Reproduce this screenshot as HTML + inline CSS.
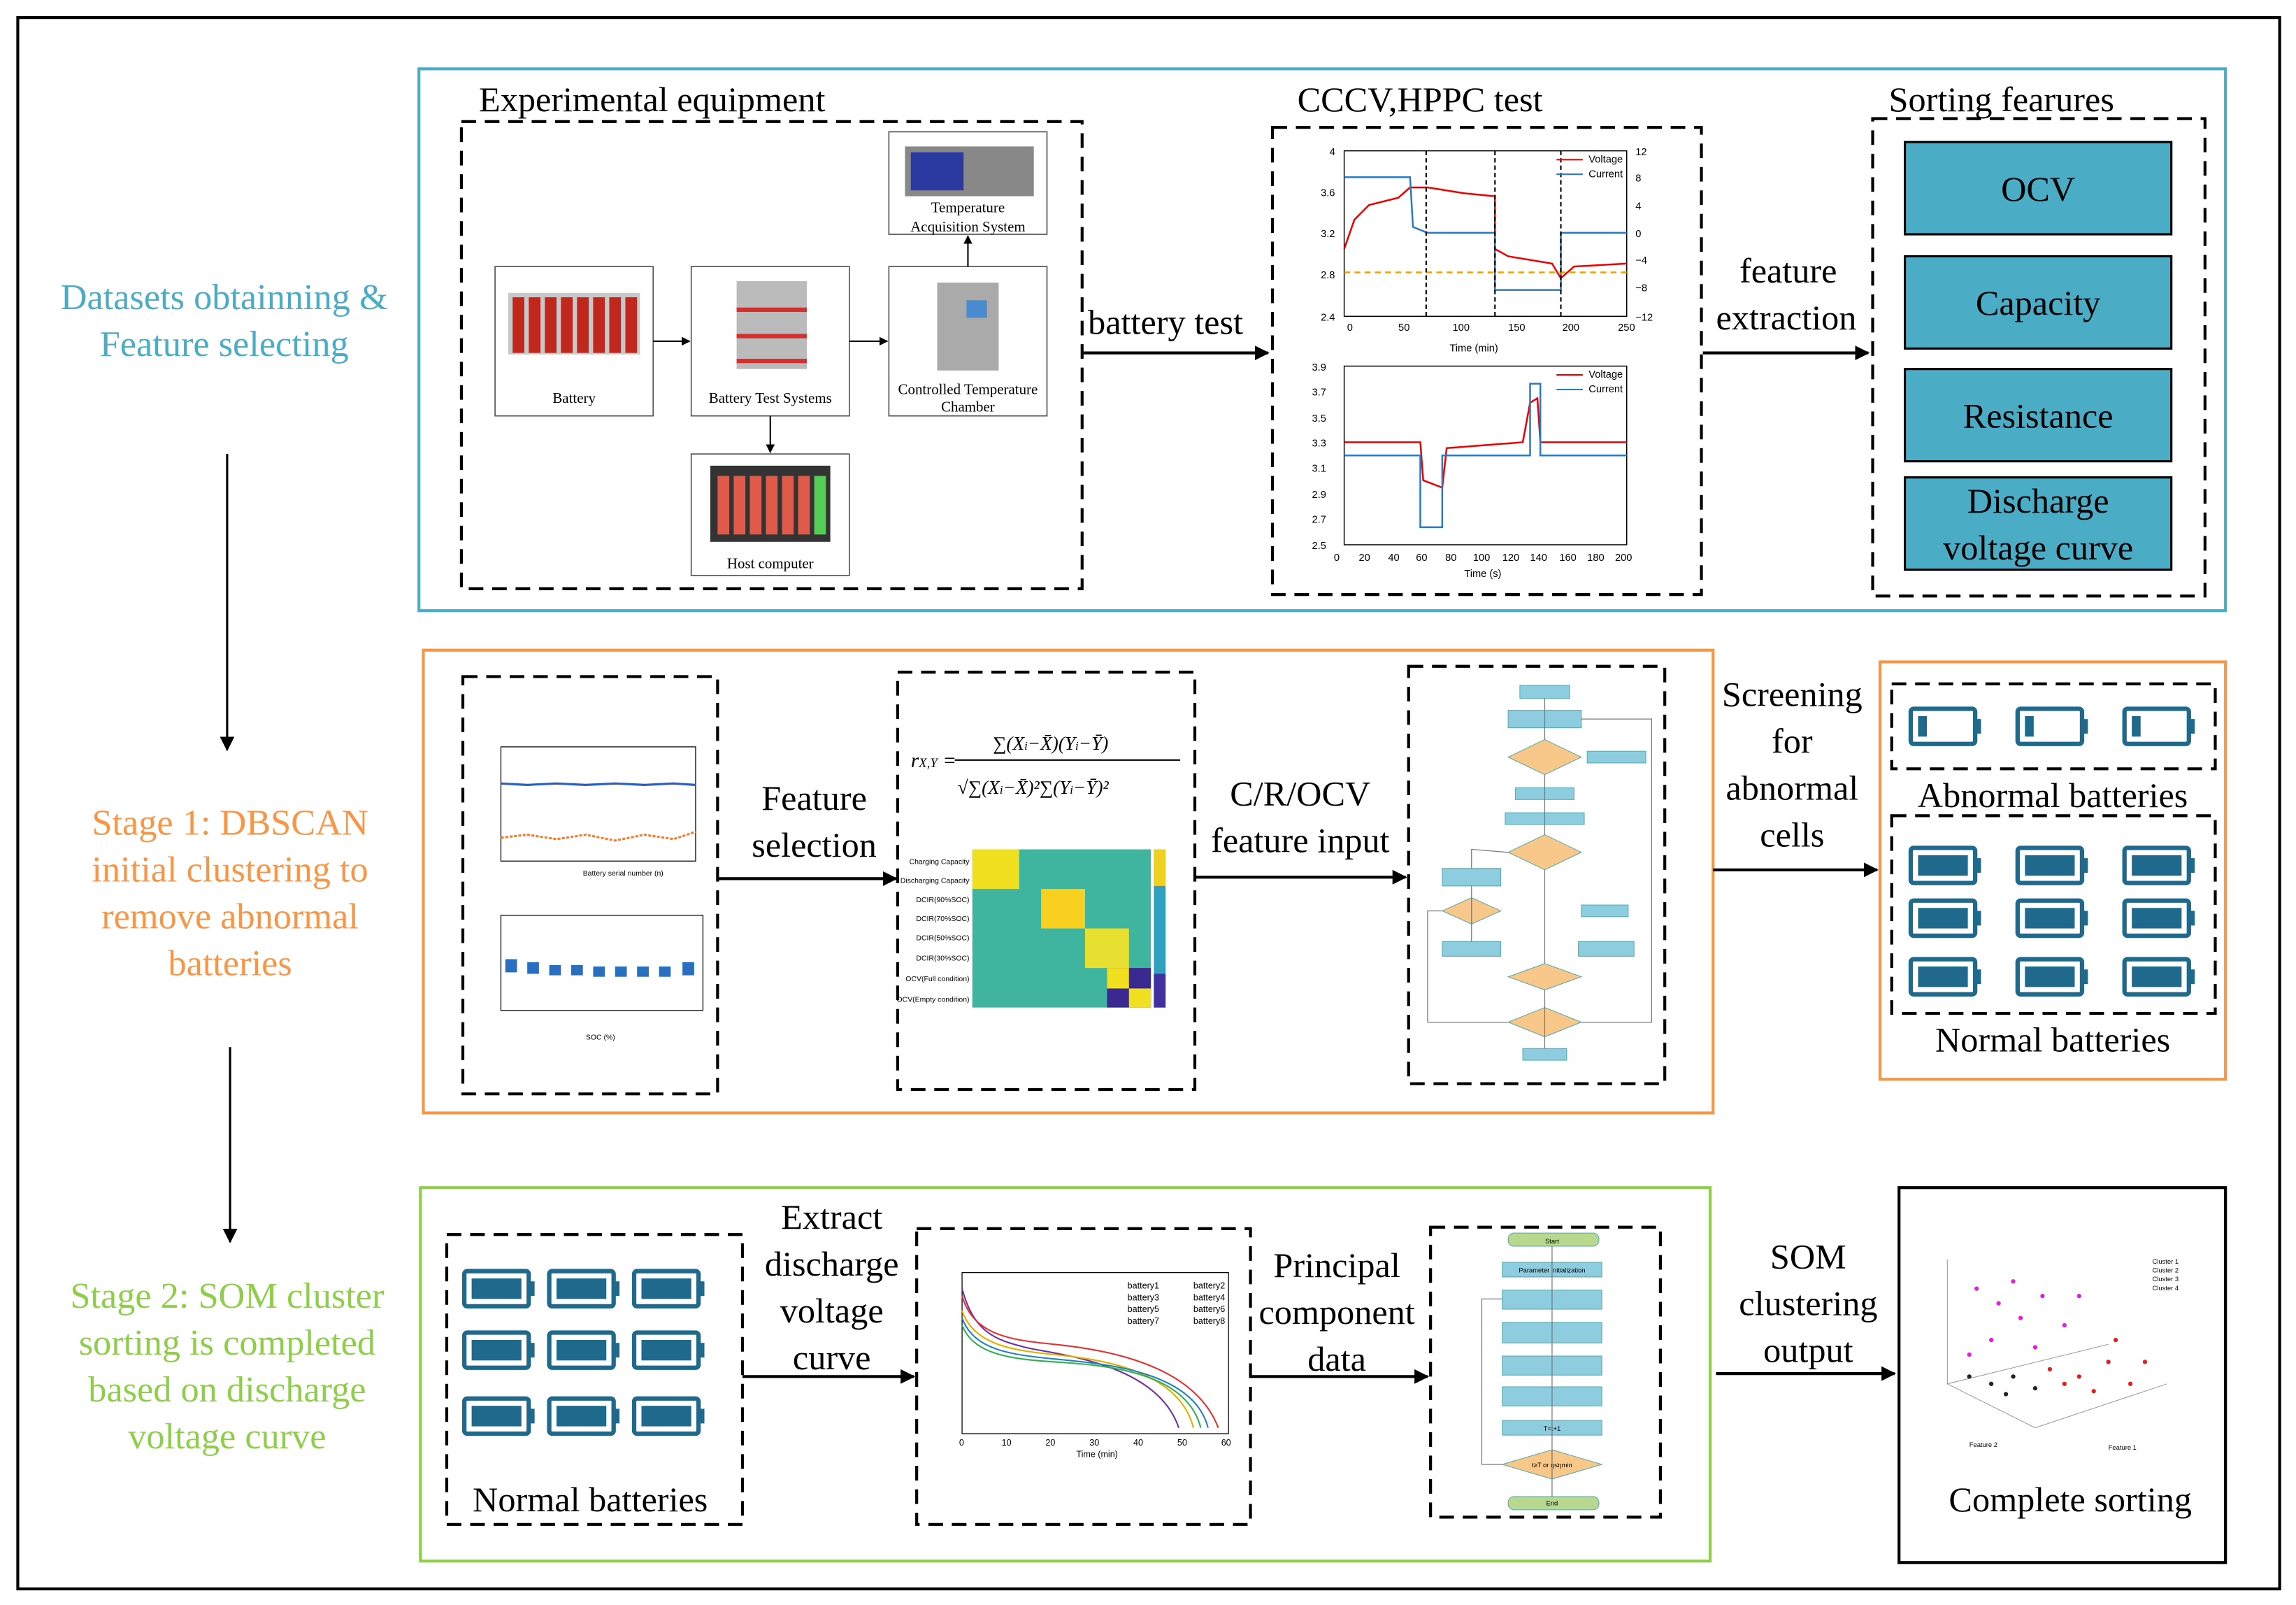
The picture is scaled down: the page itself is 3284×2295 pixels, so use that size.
<!DOCTYPE html>
<html><head><meta charset="utf-8"><style>html,body{margin:0;padding:0;background:#fff}svg{display:block}</style></head><body>
<svg xmlns="http://www.w3.org/2000/svg" width="3284" height="2295" viewBox="0 0 1568 1096" font-family="Liberation Serif, serif">
<defs>
<marker id="ar" markerWidth="10" markerHeight="10" refX="9" refY="5" orient="auto" markerUnits="userSpaceOnUse"><path d="M0,0 L10,5 L0,10 z" fill="#000"/></marker>
<marker id="as" markerWidth="6" markerHeight="6" refX="5.5" refY="3" orient="auto" markerUnits="userSpaceOnUse"><path d="M0,0 L6,3 L0,6 z" fill="#000"/></marker>
<g id="bat"><rect x="0" y="0" width="44" height="24" rx="2" fill="none" stroke="#1f6a8c" stroke-width="3"/><rect x="44" y="7" width="4" height="10" fill="#1f6a8c"/><rect x="5" y="5" width="34" height="14" fill="#1f6a8c"/></g>
<g id="batL"><rect x="0" y="0" width="44" height="24" rx="2" fill="none" stroke="#1f6a8c" stroke-width="3"/><rect x="44" y="7" width="4" height="10" fill="#1f6a8c"/><rect x="5" y="5" width="6" height="14" fill="#1f6a8c"/></g>
</defs>
<rect width="1568" height="1096" fill="#fff"/>
<rect x="12" y="12" width="1545" height="1073" fill="none" stroke="#000" stroke-width="2"/>

<!-- left labels -->
<g font-size="25" text-anchor="middle">
<text x="153" y="211" fill="#4bacc6">Datasets obtainning &amp;</text>
<text x="153" y="243" fill="#4bacc6">Feature selecting</text>
<text x="157" y="570" fill="#f79646">Stage 1: DBSCAN</text>
<text x="157" y="602" fill="#f79646">initial clustering to</text>
<text x="157" y="634" fill="#f79646">remove abnormal</text>
<text x="157" y="666" fill="#f79646">batteries</text>
<text x="155" y="893" fill="#8fce4a">Stage 2: SOM cluster</text>
<text x="155" y="925" fill="#8fce4a">sorting is completed</text>
<text x="155" y="957" fill="#8fce4a">based on discharge</text>
<text x="155" y="989" fill="#8fce4a">voltage curve</text>
</g>
<line x1="155" y1="310" x2="155" y2="512" stroke="#000" stroke-width="1.5" marker-end="url(#ar)"/>
<line x1="157" y1="715" x2="157" y2="848" stroke="#000" stroke-width="1.5" marker-end="url(#ar)"/>

<!-- Section boxes -->
<rect x="286" y="47" width="1234" height="370" fill="none" stroke="#4bacc6" stroke-width="2"/>
<rect x="289" y="444" width="881" height="316" fill="none" stroke="#f79646" stroke-width="2"/>
<rect x="1284" y="452" width="236" height="285" fill="none" stroke="#f79646" stroke-width="2"/>
<rect x="287" y="811" width="881" height="255" fill="none" stroke="#8fce4a" stroke-width="2"/>

<g fill="none" stroke="#000" stroke-width="2" stroke-dasharray="10,6">
<rect x="315" y="83" width="424" height="319"/>
<rect x="869" y="87" width="293" height="319"/>
<rect x="1279" y="81" width="227" height="326"/>
<rect x="316" y="462" width="174" height="285"/>
<rect x="613" y="459" width="203" height="285"/>
<rect x="962" y="455" width="175" height="285"/>
<rect x="1292" y="467" width="221" height="58"/>
<rect x="1292" y="557" width="221" height="135"/>
<rect x="305" y="843" width="202" height="198"/>
<rect x="626" y="839" width="228" height="202"/>
<rect x="977" y="838" width="157" height="198"/>
</g>

<!-- Experimental equipment -->
<text x="327" y="76" font-size="24">Experimental equipment</text>
<g fill="#fff" stroke="#555" stroke-width="0.8">
<rect x="338" y="182" width="108" height="102"/>
<rect x="472" y="182" width="108" height="102"/>
<rect x="607" y="182" width="108" height="102"/>
<rect x="607" y="90" width="108" height="70"/>
<rect x="472" y="310" width="108" height="83"/>
</g>
<rect x="347" y="200" width="90" height="42" fill="#c8c8c8"/>
<g fill="#c0281e"><rect x="350" y="203" width="8" height="38"/><rect x="361" y="203" width="8" height="38"/><rect x="372" y="203" width="8" height="38"/><rect x="383" y="203" width="8" height="38"/><rect x="394" y="203" width="8" height="38"/><rect x="405" y="203" width="8" height="38"/><rect x="416" y="203" width="8" height="38"/><rect x="427" y="203" width="8" height="38"/></g>
<rect x="503" y="192" width="48" height="60" fill="#bbb"/>
<g fill="#d43030"><rect x="503" y="210" width="48" height="3"/><rect x="503" y="228" width="48" height="3"/><rect x="503" y="245" width="48" height="3"/></g>
<rect x="640" y="193" width="42" height="60" fill="#aaa"/><rect x="660" y="205" width="14" height="12" fill="#4a8bd0"/>
<rect x="618" y="100" width="88" height="34" fill="#888"/><rect x="622" y="104" width="36" height="26" fill="#2a3aa0"/>
<rect x="485" y="318" width="82" height="52" fill="#333"/>
<g fill="#e05a4a"><rect x="490" y="325" width="8" height="40"/><rect x="501" y="325" width="8" height="40"/><rect x="512" y="325" width="8" height="40"/><rect x="523" y="325" width="8" height="40"/><rect x="534" y="325" width="8" height="40"/><rect x="545" y="325" width="8" height="40"/></g>
<rect x="556" y="325" width="8" height="40" fill="#5c5"/>
<g font-size="10" text-anchor="middle">
<text x="392" y="275">Battery</text>
<text x="526" y="275">Battery Test Systems</text>
<text x="661" y="269">Controlled Temperature</text>
<text x="661" y="281">Chamber</text>
<text x="661" y="145">Temperature</text>
<text x="661" y="158">Acquisition System</text>
<text x="526" y="388">Host computer</text>
</g>
<g stroke="#000" stroke-width="1">
<line x1="446" y1="233" x2="471" y2="233" marker-end="url(#as)"/>
<line x1="580" y1="233" x2="606" y2="233" marker-end="url(#as)"/>
<line x1="661" y1="182" x2="661" y2="161" marker-end="url(#as)"/>
<line x1="526" y1="284" x2="526" y2="309" marker-end="url(#as)"/>
</g>
<text x="743" y="228" font-size="24">battery test</text>
<line x1="740" y1="241" x2="866" y2="241" stroke="#000" stroke-width="2" marker-end="url(#ar)"/>

<!-- CCCV -->
<text x="886" y="76" font-size="24">CCCV,HPPC test</text>
<g font-size="7" font-family="Liberation Sans, sans-serif">
<rect x="918" y="103" width="193" height="113" fill="none" stroke="#000" stroke-width="0.7"/>
<polyline points="918,170 925,150 935,140 955,135 963,128 975,128 1000,132 1021,134 1021,170 1030,175 1060,180 1066,190 1075,182 1111,180" fill="none" stroke="#e00" stroke-width="1.2"/>
<polyline points="918,121 963,121 965,155 975,159 1021,159 1021,198 1066,198 1066,159 1111,159" fill="none" stroke="#2a7ac0" stroke-width="1.2"/>
<line x1="918" y1="186" x2="1111" y2="186" stroke="#f0a000" stroke-dasharray="4,3" stroke-width="1.2"/>
<g stroke="#000" stroke-dasharray="3,2" stroke-width="1"><line x1="974" y1="103" x2="974" y2="216"/><line x1="1021" y1="103" x2="1021" y2="216"/><line x1="1066" y1="103" x2="1066" y2="216"/></g>
<text x="1085" y="111">Voltage</text><text x="1085" y="121">Current</text>
<line x1="1063" y1="109" x2="1081" y2="109" stroke="#e00"/><line x1="1063" y1="119" x2="1081" y2="119" stroke="#2a7ac0"/>
<text x="908" y="106">4</text><text x="902" y="134">3.6</text><text x="902" y="162">3.2</text><text x="902" y="190">2.8</text><text x="902" y="219">2.4</text>
<text x="920" y="226">0</text><text x="955" y="226">50</text><text x="992" y="226">100</text><text x="1030" y="226">150</text><text x="1067" y="226">200</text><text x="1105" y="226">250</text>
<text x="990" y="240">Time (min)</text>
<text x="1117" y="106">12</text><text x="1117" y="124">8</text><text x="1117" y="143">4</text><text x="1117" y="162">0</text><text x="1117" y="180">−4</text><text x="1117" y="199">−8</text><text x="1117" y="219">−12</text>
<rect x="918" y="250" width="193" height="122" fill="none" stroke="#000" stroke-width="0.7"/>
<polyline points="918,302 970,302 972,328 985,333 988,306 1040,302 1045,275 1050,272 1052,302 1111,302" fill="none" stroke="#e00" stroke-width="1.2"/>
<polyline points="918,311 970,311 970,360 985,360 985,311 1045,311 1045,262 1052,262 1052,311 1111,311" fill="none" stroke="#2a7ac0" stroke-width="1.2"/>
<text x="1085" y="258">Voltage</text><text x="1085" y="268">Current</text>
<line x1="1063" y1="256" x2="1081" y2="256" stroke="#e00"/><line x1="1063" y1="266" x2="1081" y2="266" stroke="#2a7ac0"/>
<text x="896" y="253">3.9</text><text x="896" y="270">3.7</text><text x="896" y="288">3.5</text><text x="896" y="305">3.3</text><text x="896" y="322">3.1</text><text x="896" y="340">2.9</text><text x="896" y="357">2.7</text><text x="896" y="375">2.5</text>
<text x="911" y="383">0</text><text x="928" y="383">20</text><text x="948" y="383">40</text><text x="967" y="383">60</text><text x="987" y="383">80</text><text x="1006" y="383">100</text><text x="1026" y="383">120</text><text x="1045" y="383">140</text><text x="1065" y="383">160</text><text x="1084" y="383">180</text><text x="1103" y="383">200</text>
<text x="1000" y="394">Time (s)</text>
</g>
<text x="1188" y="193" font-size="24">feature</text>
<text x="1172" y="225" font-size="24">extraction</text>
<line x1="1163" y1="241" x2="1276" y2="241" stroke="#000" stroke-width="2" marker-end="url(#ar)"/>

<text x="1290" y="76" font-size="24">Sorting fearures</text>
<g fill="#4bacc6" stroke="#000" stroke-width="1.5">
<rect x="1301" y="97" width="182" height="63"/>
<rect x="1301" y="175" width="182" height="63"/>
<rect x="1301" y="252" width="182" height="63"/>
<rect x="1301" y="326" width="182" height="63"/>
</g>
<g font-size="24" text-anchor="middle">
<text x="1392" y="137">OCV</text><text x="1392" y="215">Capacity</text><text x="1392" y="292">Resistance</text>
<text x="1392" y="350">Discharge</text><text x="1392" y="382">voltage curve</text>
</g>

<!-- Stage 1 -->
<g font-size="5" font-family="Liberation Sans, sans-serif">
<rect x="342" y="510" width="133" height="78" fill="none" stroke="#000" stroke-width="0.6"/>
<polyline points="342,535 360,536 380,535 400,536 420,535 440,536 460,535 475,536" fill="none" stroke="#2a5fbf" stroke-width="1.5"/>
<polyline points="342,572 360,570 380,573 400,570 420,574 440,570 460,573 475,568" fill="none" stroke="#f08030" stroke-width="1.5" stroke-dasharray="2,1"/>
<rect x="342" y="625" width="138" height="65" fill="none" stroke="#000" stroke-width="0.6"/>
<g fill="#2a6fbf"><rect x="345" y="655" width="8" height="9"/><rect x="360" y="657" width="8" height="8"/><rect x="375" y="659" width="8" height="7"/><rect x="390" y="659" width="8" height="7"/><rect x="405" y="660" width="8" height="7"/><rect x="420" y="660" width="8" height="7"/><rect x="435" y="660" width="8" height="7"/><rect x="450" y="660" width="8" height="7"/><rect x="466" y="657" width="8" height="9"/></g>
<text x="398" y="598">Battery serial number (n)</text><text x="400" y="710">SOC (%)</text>
</g>
<text x="556" y="553" font-size="24" text-anchor="middle">Feature</text>
<text x="556" y="585" font-size="24" text-anchor="middle">selection</text>
<line x1="490" y1="600" x2="612" y2="600" stroke="#000" stroke-width="2" marker-end="url(#ar)"/>
<text x="622" y="524" font-size="14" font-style="italic">r<tspan font-size="9">X,Y</tspan> =</text>
<line x1="652" y1="519" x2="806" y2="519" stroke="#000"/>
<text x="678" y="512" font-size="13" font-style="italic">∑(X<tspan font-size="8">i</tspan>−X̄)(Y<tspan font-size="8">i</tspan>−Ȳ)</text>
<text x="654" y="542" font-size="13" font-style="italic">√∑(X<tspan font-size="8">i</tspan>−X̄)²∑(Y<tspan font-size="8">i</tspan>−Ȳ)²</text>
<g>
<rect x="664" y="580" width="122" height="108" fill="#3fb5a0"/>
<rect x="664" y="580" width="32" height="27" fill="#f0e020"/>
<rect x="711" y="607" width="30" height="27" fill="#f8d020"/>
<rect x="741" y="634" width="30" height="27" fill="#e8e030"/>
<rect x="756" y="661" width="30" height="27" fill="#3a2a90"/>
<rect x="756" y="661" width="15" height="14" fill="#f0e020"/>
<rect x="771" y="675" width="15" height="13" fill="#f0e020"/>
<rect x="788" y="580" width="8" height="108" fill="#30a0c0"/>
<rect x="788" y="580" width="8" height="25" fill="#f0d020"/>
<rect x="788" y="665" width="8" height="23" fill="#4030a0"/>
</g>
<g font-size="5" font-family="Liberation Sans, sans-serif" text-anchor="end">
<text x="662" y="590">Charging Capacity</text><text x="662" y="603">Discharging Capacity</text><text x="662" y="616">DCIR(90%SOC)</text><text x="662" y="629">DCIR(70%SOC)</text><text x="662" y="642">DCIR(50%SOC)</text><text x="662" y="656">DCIR(30%SOC)</text><text x="662" y="670">OCV(Full condition)</text><text x="662" y="684">OCV(Empty condition)</text>
</g>
<text x="888" y="550" font-size="24" text-anchor="middle">C/R/OCV</text>
<text x="888" y="582" font-size="24" text-anchor="middle">feature input</text>
<line x1="816" y1="599" x2="960" y2="599" stroke="#000" stroke-width="2" marker-end="url(#ar)"/>
<!-- flowchart 1 -->
<g fill="#8ecde0" stroke="#5aa" stroke-width="0.5">
<rect x="1038" y="468" width="34" height="9"/><rect x="1030" y="485" width="50" height="12"/>
<polygon points="1055,505 1080,517 1055,529 1030,517" fill="#f8c88a"/>
<rect x="1084" y="513" width="40" height="8"/><rect x="1035" y="538" width="40" height="8"/><rect x="1028" y="555" width="54" height="8"/>
<polygon points="1055,570 1080,582 1055,594 1030,582" fill="#f8c88a"/>
<rect x="985" y="593" width="40" height="12"/>
<polygon points="1005,613 1025,622 1005,631 985,622" fill="#f8c88a"/>
<rect x="1080" y="618" width="32" height="8"/><rect x="985" y="643" width="40" height="10"/><rect x="1078" y="643" width="38" height="10"/>
<polygon points="1055,658 1080,667 1055,676 1030,667" fill="#f8c88a"/>
<polygon points="1055,688 1080,698 1055,708 1030,698" fill="#f8c88a"/>
<rect x="1040" y="716" width="30" height="8"/>
</g>
<g stroke="#777" stroke-width="0.6" fill="none"><line x1="1055" y1="477" x2="1055" y2="505"/><line x1="1055" y1="529" x2="1055" y2="570"/><line x1="1055" y1="594" x2="1055" y2="658"/><line x1="1055" y1="676" x2="1055" y2="716"/><polyline points="1005,593 1005,580 1030,582"/><line x1="1005" y1="605" x2="1005" y2="643"/><polyline points="1080,698 1128,698 1128,491 1080,491"/><polyline points="985,622 975,622 975,698 1030,698"/></g>
<text x="1224" y="482" font-size="24" text-anchor="middle">Screening</text>
<text x="1224" y="514" font-size="24" text-anchor="middle">for</text>
<text x="1224" y="546" font-size="24" text-anchor="middle">abnormal</text>
<text x="1224" y="578" font-size="24" text-anchor="middle">cells</text>
<line x1="1170" y1="594" x2="1282" y2="594" stroke="#000" stroke-width="2" marker-end="url(#ar)"/>
<use href="#batL" x="1305" y="484"/><use href="#batL" x="1378" y="484"/><use href="#batL" x="1451" y="484"/>
<text x="1402" y="551" font-size="24" text-anchor="middle">Abnormal batteries</text>
<use href="#bat" x="1305" y="579"/><use href="#bat" x="1378" y="579"/><use href="#bat" x="1451" y="579"/>
<use href="#bat" x="1305" y="615"/><use href="#bat" x="1378" y="615"/><use href="#bat" x="1451" y="615"/>
<use href="#bat" x="1305" y="655"/><use href="#bat" x="1378" y="655"/><use href="#bat" x="1451" y="655"/>
<text x="1402" y="718" font-size="24" text-anchor="middle">Normal batteries</text>

<!-- Stage 2 -->
<use href="#bat" x="317" y="868"/><use href="#bat" x="375" y="868"/><use href="#bat" x="433" y="868"/>
<use href="#bat" x="317" y="910"/><use href="#bat" x="375" y="910"/><use href="#bat" x="433" y="910"/>
<use href="#bat" x="317" y="955"/><use href="#bat" x="375" y="955"/><use href="#bat" x="433" y="955"/>
<text x="403" y="1032" font-size="24" text-anchor="middle">Normal batteries</text>
<g font-size="24" text-anchor="middle"><text x="568" y="839">Extract</text><text x="568" y="871">discharge</text><text x="568" y="903">voltage</text><text x="568" y="935">curve</text></g>
<line x1="507" y1="940" x2="624" y2="940" stroke="#000" stroke-width="2" marker-end="url(#ar)"/>
<g font-size="6" font-family="Liberation Sans, sans-serif">
<rect x="657" y="869" width="182" height="110" fill="none" stroke="#000" stroke-width="0.6"/>
<path d="M657,880 C665,910 680,915 700,920 S790,930 805,975" fill="none" stroke="#7030a0" stroke-width="1"/>
<path d="M657,885 C665,912 690,915 720,918 S815,930 832,975" fill="none" stroke="#e03030" stroke-width="1"/>
<path d="M657,895 C665,918 690,922 720,925 S805,935 815,975" fill="none" stroke="#e0b000" stroke-width="1"/>
<path d="M657,900 C665,922 690,925 720,928 S815,935 825,975" fill="none" stroke="#2080c0" stroke-width="1"/>
<path d="M657,905 C665,925 690,928 720,930 S810,935 820,975" fill="none" stroke="#30b050" stroke-width="1"/>
<text x="770" y="880">battery1</text><text x="815" y="880">battery2</text><text x="770" y="888">battery3</text><text x="815" y="888">battery4</text><text x="770" y="896">battery5</text><text x="815" y="896">battery6</text><text x="770" y="904">battery7</text><text x="815" y="904">battery8</text>
<text x="735" y="995">Time (min)</text>
<text x="655" y="987">0</text><text x="684" y="987">10</text><text x="714" y="987">20</text><text x="744" y="987">30</text><text x="774" y="987">40</text><text x="804" y="987">50</text><text x="834" y="987">60</text>
</g>
<g font-size="24" text-anchor="middle"><text x="913" y="872">Principal</text><text x="913" y="904">component</text><text x="913" y="936">data</text></g>
<line x1="854" y1="940" x2="975" y2="940" stroke="#000" stroke-width="2" marker-end="url(#ar)"/>
<g fill="#8ecde0" stroke="#5aa" stroke-width="0.5">
<rect x="1030" y="842" width="62" height="9" rx="4" fill="#b8d890"/>
<rect x="1026" y="862" width="68" height="10"/><rect x="1026" y="881" width="68" height="13"/><rect x="1026" y="903" width="68" height="14"/><rect x="1026" y="926" width="68" height="13"/><rect x="1026" y="947" width="68" height="13"/><rect x="1026" y="970" width="68" height="10"/>
<polygon points="1060,990 1094,1000 1060,1010 1026,1000" fill="#f8c88a"/>
<rect x="1030" y="1022" width="62" height="9" rx="4" fill="#b8d890"/>
</g>
<g font-size="4.5" font-family="Liberation Sans, sans-serif" text-anchor="middle"><text x="1060" y="849">Start</text><text x="1060" y="869">Parameter initialization</text><text x="1060" y="1028">End</text><text x="1060" y="1002">t≥T or η≤ηmin</text><text x="1060" y="977">T=t+1</text></g>
<g stroke="#777" stroke-width="0.6" fill="none"><line x1="1060" y1="851" x2="1060" y2="1022"/><polyline points="1026,1000 1012,1000 1012,887 1026,887"/></g>
<g font-size="24" text-anchor="middle"><text x="1235" y="866">SOM</text><text x="1235" y="898">clustering</text><text x="1235" y="930">output</text></g>
<line x1="1172" y1="938" x2="1294" y2="938" stroke="#000" stroke-width="2" marker-end="url(#ar)"/>
<rect x="1297" y="811" width="223" height="256" fill="none" stroke="#000" stroke-width="2"/>
<g stroke="#999" stroke-width="0.5" fill="none"><polyline points="1330,860 1330,945 1390,975 1480,945"/><line x1="1330" y1="945" x2="1440" y2="918"/></g>
<g fill="#e020e0"><circle cx="1350" cy="880" r="1.5"/><circle cx="1365" cy="890" r="1.5"/><circle cx="1380" cy="900" r="1.5"/><circle cx="1395" cy="885" r="1.5"/><circle cx="1360" cy="915" r="1.5"/><circle cx="1390" cy="920" r="1.5"/><circle cx="1410" cy="905" r="1.5"/><circle cx="1345" cy="925" r="1.5"/><circle cx="1420" cy="885" r="1.5"/><circle cx="1375" cy="875" r="1.5"/></g>
<g fill="#e02020"><circle cx="1400" cy="935" r="1.5"/><circle cx="1420" cy="940" r="1.5"/><circle cx="1440" cy="930" r="1.5"/><circle cx="1455" cy="945" r="1.5"/><circle cx="1430" cy="950" r="1.5"/><circle cx="1410" cy="945" r="1.5"/><circle cx="1465" cy="930" r="1.5"/><circle cx="1445" cy="915" r="1.5"/></g>
<g fill="#222"><circle cx="1345" cy="940" r="1.5"/><circle cx="1360" cy="945" r="1.5"/><circle cx="1375" cy="940" r="1.5"/><circle cx="1390" cy="948" r="1.5"/><circle cx="1370" cy="952" r="1.5"/></g>
<g font-size="4.5" font-family="Liberation Sans, sans-serif"><text x="1470" y="863">Cluster 1</text><text x="1470" y="869">Cluster 2</text><text x="1470" y="875">Cluster 3</text><text x="1470" y="881">Cluster 4</text><text x="1345" y="988">Feature 2</text><text x="1440" y="990">Feature 1</text></g>
<text x="1414" y="1032" font-size="24" text-anchor="middle">Complete sorting</text>
</svg>
</body></html>
